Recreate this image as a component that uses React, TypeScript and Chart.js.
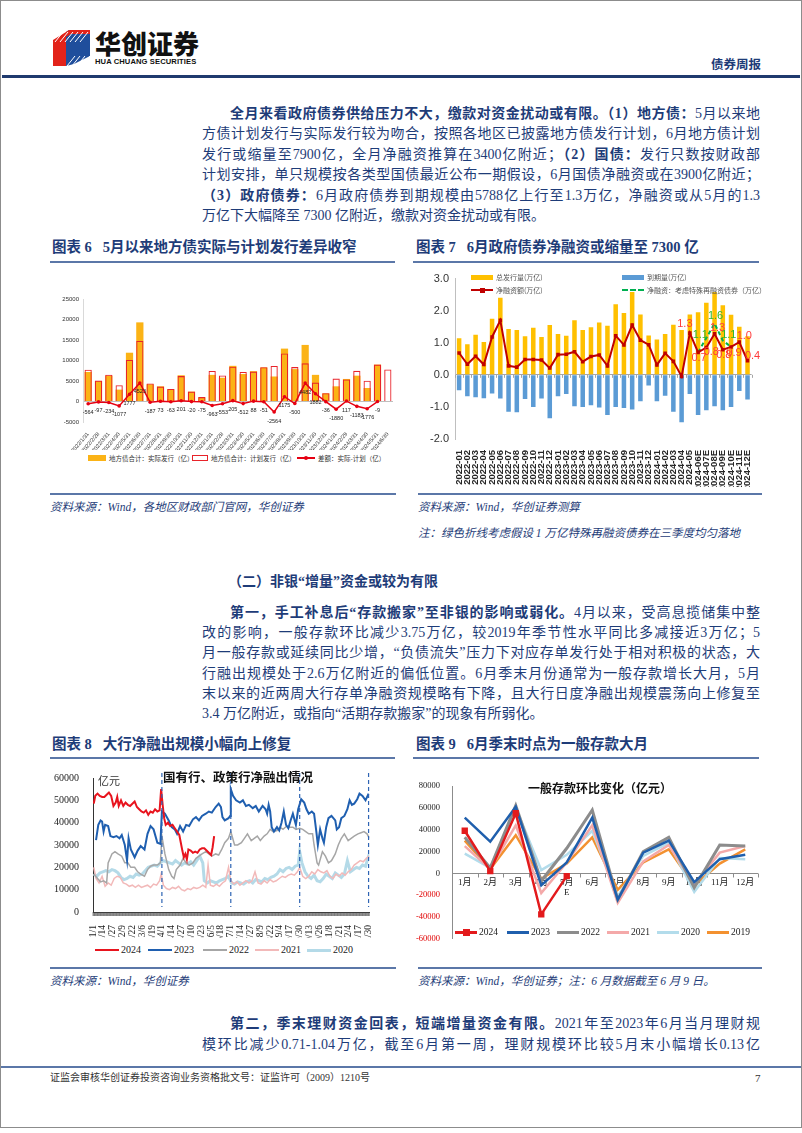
import React, { useEffect, useRef } from "react";
import { Chart, registerables } from "chart.js";
Chart.register(...registerables);

// ---------------- Chart 6 data ----------------
const c6Labels = ["2022/1/31","2022/2/28","2022/3/31","2022/4/30","2022/5/31","2022/6/30","2022/7/31","2022/8/31","2022/9/30","2022/10/31","2022/11/30","2022/12/31","2023/1/31","2023/2/28","2023/3/31","2023/4/30","2023/5/31","2023/6/30","2023/7/31","2023/8/31","2023/9/30","2023/10/31","2023/11/30","2023/12/31","2024/1/31","2024/2/29","2024/3/31","2024/4/30","2024/5/31","2024/6/30"];
const c6Actual = [7200,5000,6300,2900,11900,19300,4200,3700,3000,6400,2400,1000,6500,5800,8700,6700,7400,8300,6100,12900,7900,13800,6500,2000,3700,5500,6300,3300,9000,null];
const c6Plan = [7760,5100,6530,3980,10120,14780,4390,3630,3060,6200,2420,1080,7460,6350,8500,7210,7310,8350,8660,11730,8400,9320,4620,2040,5580,5380,7480,5080,9010,7800];
const c6Diff = [-564,-97,-234,-1077,1777,4523,-187,73,-63,201,-20,-75,-963,-553,205,-512,88,-51,-2564,1175,-500,4482,1882,-36,-1880,117,-1183,-1776,-9,null];

// ---------------- Chart 7 data ----------------
const c7Labels = ["2022-01","2022-02","2022-03","2022-04","2022-05","2022-06","2022-07","2022-08","2022-09","2022-10","2022-11","2022-12","2023-01","2023-02","2023-03","2023-04","2023-05","2023-06","2023-07","2023-08","2023-09","2023-10","2023-11","2023-12","2024-01","2024-02","2024-03","2024-04","2024-05","2024-06E","2024-07E","2024-08E","2024-09E","2024-10E","2024-11E","2024-12E"];
const c7Issue = [1.14,0.95,1.25,1.02,1.75,2.40,1.43,1.40,1.20,1.47,1.18,1.55,1.27,1.22,1.70,1.40,1.48,1.63,1.53,2.20,1.93,2.58,1.88,1.23,1.10,1.27,1.56,1.40,1.88,1.95,2.25,2.58,2.17,1.87,1.50,1.20];
const c7Mature = [-0.48,-0.67,-0.70,-0.73,-0.58,-0.74,-1.15,-1.17,-0.75,-1.00,-0.74,-1.35,-0.67,-0.60,-0.98,-1.00,-0.95,-1.02,-1.25,-1.00,-1.03,-1.08,-0.82,-0.33,-0.82,-0.65,-1.15,-1.48,-0.60,-1.25,-1.10,-0.98,-1.10,-1.00,-0.50,-0.77];
const c7Net = [0.68,0.33,0.58,0.32,1.18,1.70,0.28,0.24,0.48,0.48,0.46,0.21,0.63,0.64,0.72,0.41,0.57,0.62,0.28,1.22,0.93,1.55,1.08,0.94,0.31,0.67,0.42,-0.05,1.30,0.70,0.85,1.28,0.78,0.87,1.02,0.44];
const c7NetSpecial = [null,null,null,null,null,null,null,null,null,null,null,null,null,null,null,null,null,null,null,null,null,null,null,null,null,null,null,null,null,0.70,1.15,1.60,1.07,0.87,null,null];
const c7NetLabelIdx = [28,29,30,31,32,33,34,35];
const c7SpecialLabelIdx = [30,31,32];

// ---------------- Chart 8 data (day of year, 亿元) ----------------
const s2024 = [[1,48500],[3,52000],[6,53000],[9,52000],[12,51500],[15,51500],[18,52500],[21,53500],[24,52000],[27,47500],[30,49000],[32,51500],[34,47500],[37,50000],[40,47500],[43,49000],[46,48000],[49,47500],[52,48500],[55,49500],[58,47000],[61,46000],[64,45000],[67,44500],[70,45500],[73,43500],[76,45000],[79,44500],[82,46000],[85,45000],[88,45500],[90,55000],[92,48000],[94,42000],[96,39000],[99,40000],[102,38500],[105,39000],[108,37500],[111,36000],[114,34500],[116,31000],[118,27500],[120,24500],[122,26000],[124,23500],[126,28000],[129,27500],[132,26500],[135,27000],[138,26500],[141,28000],[144,28500],[147,28500],[150,27500],[153,26500],[156,25500],[158,29000],[160,34000]];
const s2023 = [[4,32200],[7,39000],[10,41000],[12,40500],[14,36000],[16,39000],[20,38500],[23,34000],[27,33500],[31,34000],[35,33000],[38,34500],[42,30000],[45,23000],[47,33000],[50,28000],[55,24500],[59,27500],[63,29500],[68,28000],[72,35000],[76,38500],[80,37000],[85,31000],[89,30500],[91,45000],[95,44000],[100,41000],[104,38000],[108,37000],[111,35000],[115,38500],[119,36000],[123,39000],[127,38500],[132,41500],[136,42500],[140,41000],[144,43000],[149,44000],[153,45000],[157,44500],[162,47000],[166,48500],[169,47000],[171,42500],[174,41000],[179,42000],[181,43000],[182,55000],[185,52000],[189,50000],[194,49000],[198,50000],[202,47500],[206,48000],[211,46500],[215,47500],[219,45000],[224,47500],[228,46000],[230,44000],[232,48000],[234,45000],[236,38000],[239,36000],[243,38000],[246,36500],[249,40000],[252,45000],[255,39000],[258,37500],[261,41000],[264,44000],[268,39000],[271,46000],[275,50500],[279,49000],[282,46000],[285,44000],[289,45000],[292,44000],[295,36000],[297,30000],[300,37000],[303,33000],[305,31000],[308,38000],[311,42000],[315,43000],[320,41000],[322,37000],[325,38000],[328,42000],[332,43000],[336,46000],[339,50000],[342,48000],[345,48500],[349,50500],[352,53000],[356,52000],[360,50000],[364,53000]];
const s2022 = [[1,17000],[6,15000],[10,13500],[14,14000],[18,13000],[20,22000],[25,26000],[29,27000],[33,26000],[38,25000],[42,22000],[46,22000],[50,20000],[55,20000],[59,18000],[63,17000],[68,16000],[72,19000],[76,20500],[80,21000],[85,21000],[89,22000],[91,34000],[95,26000],[100,19000],[104,16000],[107,15000],[110,19000],[115,21000],[119,24000],[123,22000],[127,21000],[132,22000],[136,24000],[140,25000],[144,26000],[149,27000],[153,26000],[157,25000],[162,26000],[166,25500],[170,28000],[174,31000],[179,33000],[182,36000],[187,30000],[191,30000],[196,31000],[200,33000],[204,35000],[209,32000],[213,33000],[217,34000],[221,32000],[226,34000],[230,35000],[234,37000],[238,36000],[243,36500],[247,38000],[251,37000],[256,38500],[260,38000],[264,38000],[268,37000],[273,37500],[277,37000],[281,36000],[285,35000],[290,35000],[292,30000],[296,22000],[298,21000],[303,27000],[307,25000],[311,22000],[315,23000],[320,26000],[324,30000],[328,33000],[332,35000],[337,32000],[341,33000],[345,34000],[350,35000],[354,35500],[358,36000],[362,35000],[365,33000]];
const s2021 = [[1,20000],[4,15000],[8,13000],[12,16000],[16,11500],[20,13000],[24,12000],[28,15000],[32,16000],[36,15500],[40,13000],[44,12500],[48,11500],[52,12000],[56,11000],[60,12000],[64,11000],[68,11500],[72,12000],[76,11000],[80,12500],[84,12000],[88,14000],[90,17000],[93,12000],[97,10500],[101,10000],[105,11000],[109,10500],[113,11500],[117,10000],[121,9500],[125,10500],[129,10000],[133,11000],[137,10500],[141,11000],[145,12000],[149,11000],[152,21000],[155,12000],[159,11500],[163,12500],[167,11500],[171,13000],[175,14000],[179,20000],[182,14000],[186,12500],[190,13500],[194,12000],[198,13000],[202,14000],[206,13000],[210,14000],[214,18000],[218,13000],[222,12500],[226,14000],[230,13000],[234,14500],[238,13500],[242,14000],[246,15000],[250,16000],[254,15500],[258,16500],[262,17000],[266,16500],[270,18000],[273,20000],[277,16000],[281,15000],[285,16000],[289,18000],[293,17000],[297,19000],[301,18000],[305,17500],[309,18500],[313,16000],[317,15000],[321,17000],[325,16000],[329,17500],[333,16500],[337,18000],[341,19000],[345,21000],[349,22000],[353,23000],[357,22500],[361,24000],[365,25000]];
const s2020 = [[1,17000],[5,16000],[9,17500],[13,18000],[17,18500],[21,18000],[25,19000],[29,18500],[33,17500],[37,15500],[41,14500],[45,15000],[49,16000],[53,15500],[57,17000],[61,16500],[65,17000],[69,18500],[73,20000],[77,20500],[81,21000],[85,20500],[89,22000],[93,23000],[97,22500],[101,22000],[105,21500],[109,23000],[113,22000],[117,21000],[121,22000],[125,21500],[129,22500],[133,21000],[137,23000],[141,25000],[145,22000],[147,14000],[151,13000],[155,14000],[159,13500],[163,13000],[167,14000],[171,14500],[175,15000],[179,16000],[183,13000],[187,12500],[191,13500],[195,13000],[199,12500],[203,13500],[207,14000],[211,13000],[215,14500],[219,14000],[223,13500],[227,15000],[231,14500],[235,15500],[239,16000],[243,17000],[247,19000],[251,18000],[255,19500],[259,20000],[263,19000],[267,20500],[271,21000],[273,27000],[276,22000],[280,18000],[284,16000],[288,15000],[292,16500],[296,14000],[300,13500],[304,15000],[308,17000],[312,16000],[316,15000],[320,17500],[324,16500],[328,15500],[332,17000],[336,23000],[340,18000],[344,19000],[348,20000],[352,19500],[356,21000],[360,20500],[363,24000],[365,26000]];
const c8QuarterDays = [91, 182, 273, 364];

// ---------------- Chart 9 data ----------------
const c9Labels = ["1月","2月","3月","4月","5月","6月","7月","8月","9月","10月","11月","12月"];
const d2024 = [39000, 2000, 55000, -37500, -2500, null, null, null, null, null, null, null];
const d2023 = [51000, 29000, 61000, -11000, 10000, 51000, -24000, 19000, 30000, -8000, 13000, 17000];
const d2022 = [33000, 5000, 62000, -7000, 23000, 58000, -24000, 20000, 33000, -13000, 26000, 25000];
const d2021 = [25000, 4000, 44000, -18000, 10000, 44000, -27000, 11000, 26000, -10000, 19000, 25000];
const d2020 = [18000, 5000, 60000, 3000, 17000, 39000, -21000, 16000, 28000, -17000, 14000, 13000];
const d2019 = [30000, 4000, 35000, -5000, 9000, 33000, -15000, 10000, 22000, -11000, 9000, 22000];

const NAVY = "#1E3C78";
const BODY_FONT = '"Liberation Serif", "Noto Sans CJK SC", serif';
const CJK = '"Noto Sans CJK SC", sans-serif';
const plain = (v: any) => String(v);

function ChartCanvas({ left, top, width, height, make }: any) {
  const ref = useRef<HTMLCanvasElement>(null);
  useEffect(() => {
    const ch = new Chart(ref.current as HTMLCanvasElement, make());
    return () => ch.destroy();
  }, []);
  return (
    <div style={{ position: "absolute", left, top, width, height }}>
      <canvas ref={ref} width={width} height={height} style={{ width, height, display: "block" }} />
    </div>
  );
}

function makeChart6() {
  return {
    type: "bar",
    data: {
      labels: c6Labels,
      datasets: [
        { type: "line", label: "差额", data: c6Diff, borderColor: "#E60012", borderWidth: 1.5, pointRadius: 1.8, pointBackgroundColor: "#E60012", pointBorderWidth: 0, order: 0, tension: 0 },
        { type: "bar", label: "计划", data: c6Plan, backgroundColor: "rgba(0,0,0,0)", borderColor: "#E8232A", borderWidth: 1.1, grouped: false, barPercentage: 0.7, categoryPercentage: 1, order: 1 },
        { type: "bar", label: "实际", data: c6Actual, backgroundColor: "#FBB316", borderWidth: 0, grouped: false, barPercentage: 0.7, categoryPercentage: 1, order: 2 },
      ],
    },
    options: {
      responsive: false, animation: false,
      plugins: { legend: { display: false }, tooltip: { enabled: false } },
      layout: { padding: { top: 14, right: 7, left: 0, bottom: 0 } },
      scales: {
        x: { grid: { display: false }, border: { display: false }, ticks: { autoSkip: false, maxRotation: 50, minRotation: 50, font: { size: 5.5 }, color: "#333", padding: 1 }, afterFit: (s: any) => { s.height = 28; } },
        y: { min: -5000, max: 25000, ticks: { stepSize: 5000, font: { size: 6 }, color: "#333", padding: 4, callback: plain }, grid: { drawTicks: false, color: (c: any) => (c.tick && c.tick.value === 0 ? "#BFBFBF" : "transparent") }, border: { display: true, color: "#D9D9D9" }, afterFit: (s: any) => { s.width = 38; } },
      },
    },
    plugins: [{
      id: "diffLabels",
      afterDatasetsDraw(chart: any) {
        const meta = chart.getDatasetMeta(0);
        const ctx = chart.ctx;
        ctx.save();
        ctx.font = "5.5px sans-serif";
        ctx.fillStyle = "#222";
        ctx.textAlign = "center";
        ctx.textBaseline = "middle";
        meta.data.forEach((pt: any, i: number) => {
          const v = c6Diff[i];
          if (v === null || v === undefined) return;
          ctx.fillText(String(v), pt.x, pt.y + 9);
        });
        ctx.restore();
      },
    }],
  };
}

function makeChart7() {
  const netOffsets: any = { 28: [-5, -9], 29: [1, 6], 30: [5, 4], 31: [3, -6], 32: [1, 5], 33: [3, 6], 34: [5, -6], 35: [5, -5] };
  const spOffsets: any = { 30: [-6, -3], 31: [1, -8], 32: [6, -6] };
  return {
    type: "bar",
    data: {
      labels: c7Labels,
      datasets: [
        { type: "line", label: "净融资额(万亿)", data: c7Net, borderColor: "#C00000", borderWidth: 2, pointStyle: "rect", pointRadius: 2.5, pointBackgroundColor: "#C00000", pointBorderWidth: 0, order: 0, tension: 0 },
        { type: "line", label: "净融资：考虑特殊再融资债券（万亿）", data: c7NetSpecial, borderColor: "#00B050", borderWidth: 2, borderDash: [4, 3], pointRadius: 0, order: 1, tension: 0 },
        { type: "bar", label: "总发行量(万亿)", data: c7Issue, backgroundColor: "#FFC000", grouped: false, barPercentage: 0.55, categoryPercentage: 1, order: 2 },
        { type: "bar", label: "到期量(万亿)", data: c7Mature, backgroundColor: "#5B9BD5", grouped: false, barPercentage: 0.55, categoryPercentage: 1, order: 3 },
      ],
    },
    options: {
      responsive: false, animation: false,
      plugins: { legend: { display: false }, tooltip: { enabled: false } },
      layout: { padding: { top: 10, right: 5, left: 0, bottom: 0 } },
      scales: {
        x: { grid: { display: false }, border: { display: false }, ticks: { autoSkip: false, maxRotation: 90, minRotation: 90, font: { size: 9.5, weight: "bold", family: "Liberation Sans" }, color: "#262626", padding: 3 }, afterFit: (s: any) => { s.height = 48; } },
        y: { min: -2, max: 3, ticks: { stepSize: 0.5, font: { size: 11, family: "Liberation Sans" }, color: "#333", padding: 6, callback: (v: any) => Number(v).toFixed(1) }, grid: { drawTicks: false, color: (c: any) => (c.tick && c.tick.value === 0 ? "#A6A6A6" : "transparent") }, border: { display: true, color: "#BFBFBF" }, afterFit: (s: any) => { s.width = 43; } },
      },
    },
    plugins: [{
      id: "c7extras",
      beforeDatasetsDraw(chart: any) {
        const ctx = chart.ctx;
        const xs = chart.scales.x, ys = chart.scales.y;
        const y0 = ys.getPixelForValue(0);
        ctx.save();
        ctx.strokeStyle = "#A6A6A6";
        ctx.lineWidth = 1;
        for (let i = 0; i <= c7Labels.length; i++) {
          const x = xs.left + (xs.width * i) / c7Labels.length;
          ctx.beginPath();
          ctx.moveTo(Math.round(x) + 0.5, y0);
          ctx.lineTo(Math.round(x) + 0.5, y0 + 3);
          ctx.stroke();
        }
        ctx.restore();
      },
      afterDatasetsDraw(chart: any) {
        const ctx = chart.ctx;
        ctx.save();
        ctx.font = "11px 'Liberation Sans'";
        ctx.textAlign = "center";
        ctx.textBaseline = "middle";
        const m0 = chart.getDatasetMeta(0);
        ctx.fillStyle = "#FF3B3B";
        c7NetLabelIdx.forEach((i) => {
          const p = m0.data[i];
          const o = netOffsets[i];
          ctx.fillText(c7Net[i].toFixed(1), p.x + o[0], p.y + o[1]);
        });
        const m1 = chart.getDatasetMeta(1);
        ctx.fillStyle = "#2EB82E";
        c7SpecialLabelIdx.forEach((i) => {
          const p = m1.data[i];
          const o = spOffsets[i];
          ctx.fillText((c7NetSpecial[i] as number).toFixed(1), p.x + o[0], p.y + o[1]);
        });
        ctx.restore();
      },
    }],
  };
}

function dayLabel(v: number) {
  const d = new Date(2024, 0, 1 + v);
  return `${d.getMonth() + 1}/${d.getDate()}`;
}

function makeChart8() {
  const pts = (s: number[][]) => s.map((p) => ({ x: p[0], y: p[1] }));
  return {
    type: "line",
    data: {
      datasets: [
        { label: "2024", data: pts(s2024), borderColor: "#E8141E", borderWidth: 2, pointRadius: 0, tension: 0 },
        { label: "2023", data: pts(s2023), borderColor: "#1F5FB0", borderWidth: 2, pointRadius: 0, tension: 0 },
        { label: "2022", data: pts(s2022), borderColor: "#A6A6A6", borderWidth: 1.5, pointRadius: 0, tension: 0 },
        { label: "2021", data: pts(s2021), borderColor: "#F2B9B9", borderWidth: 1.5, pointRadius: 0, tension: 0 },
        { label: "2020", data: pts(s2020), borderColor: "#B4DAE8", borderWidth: 3, pointRadius: 0, tension: 0 },
      ],
    },
    options: {
      responsive: false, animation: false,
      plugins: { legend: { display: false }, tooltip: { enabled: false } },
      layout: { padding: { top: 12, right: 8, left: 0, bottom: 0 } },
      scales: {
        x: { type: "linear", min: 0, max: 365, grid: { display: false }, border: { display: true, color: "#333" }, ticks: { stepSize: 13, includeBounds: false, autoSkip: false, maxRotation: 90, minRotation: 90, font: { size: 9.5, family: "Liberation Serif" }, color: "#222", padding: 5, callback: (v: any) => dayLabel(Number(v)) }, afterFit: (s: any) => { s.height = 26; } },
        y: { min: 0, max: 60000, ticks: { stepSize: 10000, font: { size: 10, family: "Liberation Serif" }, color: "#222", padding: 6, callback: plain }, grid: { display: false }, border: { display: true, color: "#333" }, afterFit: (s: any) => { s.width = 48; } },
      },
    },
    plugins: [{
      id: "c8extras",
      beforeDatasetsDraw(chart: any) {
        const ctx = chart.ctx;
        const xs = chart.scales.x, ys = chart.scales.y;
        ctx.save();
        ctx.strokeStyle = "#444";
        ctx.lineWidth = 0.6;
        for (let d = 0; d <= 365; d++) {
          const x = xs.getPixelForValue(d);
          ctx.beginPath();
          ctx.moveTo(x, ys.bottom);
          ctx.lineTo(x, ys.bottom + 4);
          ctx.stroke();
        }
        ctx.restore();
      },
      afterDatasetsDraw(chart: any) {
        const ctx = chart.ctx;
        const xs = chart.scales.x, ys = chart.scales.y;
        ctx.save();
        ctx.strokeStyle = "#2E64B4";
        ctx.lineWidth = 1.2;
        ctx.setLineDash([4, 3]);
        c8QuarterDays.forEach((d) => {
          const x = xs.getPixelForValue(d);
          ctx.beginPath();
          ctx.moveTo(x, ys.top - 5);
          ctx.lineTo(x, ys.bottom - 5);
          ctx.stroke();
        });
        ctx.restore();
      },
    }],
  };
}

function makeChart9() {
  return {
    type: "line",
    data: {
      labels: c9Labels,
      datasets: [
        { label: "2024", data: d2024, borderColor: "#E31A1C", borderWidth: 2.5, pointStyle: "rect", pointRadius: 4.5, pointBackgroundColor: "#E31A1C", pointBorderWidth: 0, tension: 0 },
        { label: "2023", data: d2023, borderColor: "#1F5FAD", borderWidth: 2.5, pointRadius: 0, tension: 0 },
        { label: "2022", data: d2022, borderColor: "#8C8C8C", borderWidth: 3, pointRadius: 0, tension: 0 },
        { label: "2021", data: d2021, borderColor: "#F4A9A9", borderWidth: 2.5, pointRadius: 0, tension: 0 },
        { label: "2020", data: d2020, borderColor: "#B3DCEB", borderWidth: 2.5, pointRadius: 0, tension: 0 },
        { label: "2019", data: d2019, borderColor: "#F39130", borderWidth: 2.5, pointRadius: 0, tension: 0 },
      ],
    },
    options: {
      responsive: false, animation: false,
      plugins: { legend: { display: false }, tooltip: { enabled: false } },
      layout: { padding: { top: 10, right: 11, left: 0, bottom: 6 } },
      scales: {
        x: { display: false, offset: true },
        y: { min: -60000, max: 80000, ticks: { stepSize: 20000, font: { size: 8.5, family: "Liberation Serif" }, color: (c: any) => (c.tick && c.tick.value < 0 ? "#E00000" : "#222"), padding: 4, callback: plain }, grid: { display: false }, border: { display: true, color: "#8C8C8C" }, afterFit: (s: any) => { s.width = 40; } },
      },
    },
    plugins: [{
      id: "c9axis",
      beforeDatasetsDraw(chart: any) {
        const ctx = chart.ctx;
        const xs = chart.scales.x, ys = chart.scales.y;
        const y0 = Math.round(ys.getPixelForValue(0)) + 0.5;
        ctx.save();
        ctx.strokeStyle = "#8C8C8C";
        ctx.lineWidth = 1;
        ctx.beginPath();
        ctx.moveTo(xs.left, y0);
        ctx.lineTo(xs.right, y0);
        ctx.stroke();
        for (let i = 0; i <= c9Labels.length; i++) {
          const x = Math.round(xs.left + (xs.width * i) / c9Labels.length) + 0.5;
          ctx.beginPath();
          ctx.moveTo(x, y0);
          ctx.lineTo(x, y0 + 4);
          ctx.stroke();
        }
        ctx.font = "9px 'Liberation Serif', 'Noto Sans CJK SC'";
        ctx.fillStyle = "#222";
        ctx.textAlign = "center";
        ctx.textBaseline = "top";
        c9Labels.forEach((l, i) => {
          const x = xs.getPixelForValue(i);
          ctx.fillText(l, x, y0 + 5);
          if (i === 4) ctx.fillText("E", x, y0 + 15);
        });
        ctx.restore();
      },
    }],
  };
}

function TextLine({ y, x = 202, w = 558, last = false, children }: any) {
  return (
    <div style={{ position: "absolute", left: x, top: y - 10, width: w, height: 20, lineHeight: "20px", fontSize: 14, fontFamily: BODY_FONT, color: NAVY, textAlign: last ? "left" : "justify", textAlignLast: last ? "left" : "justify" } as any}>
      {children}
    </div>
  );
}

function Abs({ x, y, children, style }: any) {
  return <div style={{ position: "absolute", left: x, top: y, whiteSpace: "nowrap", ...style }}>{children}</div>;
}

const captionStyle = { fontFamily: BODY_FONT, fontStyle: "italic", fontSize: 11.5, color: NAVY, lineHeight: "14px" };
const titleStyle = { fontFamily: BODY_FONT, fontWeight: 700, fontSize: 14.5, color: NAVY, lineHeight: "18px" };
const legTxt = { fontFamily: CJK, fontSize: 6.5, color: "#333", lineHeight: "8px" };

function Logo() {
  return (
    <svg style={{ position: "absolute", left: 53, top: 30 }} width="38" height="36" viewBox="0 0 38 36">
      <polygon points="0,10 13,2 13,36 0,36" fill="#E2231A" />
      <polygon points="13,2 16,0 37,0 37,26 21,34 13,36" fill="#1F4E9C" />
      <polygon points="13,2 16,0 37,0 37,4 18,4 13,7" fill="#E2231A" />
      {[0, 1, 2, 3, 4, 5].map((i) => (
        <line key={"a" + i} x1={2 + i * 5} y1={12} x2={10 + i * 5} y2={2} stroke="#fff" strokeWidth="1" />
      ))}
      {[0, 1, 2, 3, 4].map((i) => (
        <line key={"b" + i} x1={14 + i * 5} y1={36} x2={22 + i * 5} y2={26} stroke="#fff" strokeWidth="1" />
      ))}
    </svg>
  );
}

export default function App() {
  return (
    <div style={{ position: "absolute", left: 0, top: 0, width: 802, height: 1133, background: "#fff", overflow: "hidden" }}>
      <div style={{ position: "absolute", left: 0, top: 0, width: 800, height: 1126, border: "1px solid #8C8C8C" }} />
      {/* Header */}
      <Logo />
      <Abs x={95} y={28} style={{ fontFamily: CJK, fontWeight: 900, fontSize: 26, color: "#111", lineHeight: "30px", letterSpacing: 0 }}>华创证券</Abs>
      <Abs x={95} y={57} style={{ fontFamily: '"Liberation Sans", sans-serif', fontWeight: 700, fontSize: 7.6, color: "#111", lineHeight: "9px", letterSpacing: 0.1 }}>HUA CHUANG SECURITIES</Abs>
      <Abs x={711} y={56} style={{ fontFamily: CJK, fontWeight: 700, fontSize: 12.5, color: NAVY, lineHeight: "15px" }}>债券周报</Abs>
      <div style={{ position: "absolute", left: 2, top: 75, width: 798, height: 3, background: "#1F3A6E" }} />

      {/* Paragraph 1 */}
      <TextLine y={114} x={230} w={530}><b>全月来看政府债券供给压力不大，缴款对资金扰动或有限。（1）地方债：</b>5月以来地</TextLine>
      <TextLine y={134.4}>方债计划发行与实际发行较为吻合，按照各地区已披露地方债发行计划，6月地方债计划</TextLine>
      <TextLine y={154.8}>发行或缩量至7900亿，全月净融资推算在3400亿附近；<b>（2）国债：</b>发行只数按财政部</TextLine>
      <TextLine y={175.2}>计划安排，单只规模按各类型国债最近公布一期假设，6月国债净融资或在3900亿附近；</TextLine>
      <TextLine y={195.6}><b>（3）政府债券：</b>6月政府债券到期规模由5788亿上行至1.3万亿，净融资或从5月的1.3</TextLine>
      <TextLine y={216} last>万亿下大幅降至 7300 亿附近，缴款对资金扰动或有限。</TextLine>

      {/* Chart 6 & 7 titles */}
      <Abs x={52} y={238} style={titleStyle}>图表 6&nbsp;&nbsp;&nbsp;5月以来地方债实际与计划发行差异收窄</Abs>
      <div style={{ position: "absolute", left: 50, top: 261, width: 345, height: 2, background: "#5B77A8" }} />
      <Abs x={416} y={238} style={titleStyle}>图表 7&nbsp;&nbsp;&nbsp;6月政府债券净融资或缩量至 7300 亿</Abs>
      <div style={{ position: "absolute", left: 413, top: 261, width: 346, height: 2, background: "#5B77A8" }} />

      <ChartCanvas left={45} top={285} width={355} height={165} make={makeChart6} />
      {/* Chart 6 legend */}
      <div style={{ position: "absolute", left: 88, top: 455, width: 18, height: 6, background: "#FBB316" }} />
      <Abs x={109} y={454} style={legTxt}>地方债合计：实际发行（亿）</Abs>
      <div style={{ position: "absolute", left: 192, top: 455, width: 14, height: 4, border: "1px solid #E8232A" }} />
      <Abs x={211} y={454} style={legTxt}>地方债合计：计划发行（亿）</Abs>
      <div style={{ position: "absolute", left: 297, top: 457, width: 18, height: 1.5, background: "#E60012" }} />
      <div style={{ position: "absolute", left: 304, top: 456, width: 4, height: 4, borderRadius: 2, background: "#E60012" }} />
      <Abs x={318} y={454} style={legTxt}>差额：实际-计划（亿）</Abs>

      <ChartCanvas left={412} top={266} width={350} height={221} make={makeChart7} />
      {/* Chart 7 legend */}
      <div style={{ position: "absolute", left: 471, top: 275, width: 22, height: 5, background: "#FFC000" }} />
      <Abs x={496} y={273} style={{ ...legTxt, fontSize: 7, color: "#555" }}>总发行量(万亿)</Abs>
      <div style={{ position: "absolute", left: 622, top: 275, width: 22, height: 5, background: "#5B9BD5" }} />
      <Abs x={647} y={273} style={{ ...legTxt, fontSize: 7, color: "#555" }}>到期量(万亿)</Abs>
      <div style={{ position: "absolute", left: 471, top: 289, width: 22, height: 2, background: "#C00000" }} />
      <div style={{ position: "absolute", left: 479.5, top: 287.5, width: 5, height: 5, background: "#C00000" }} />
      <Abs x={496} y={286} style={{ ...legTxt, fontSize: 7, color: "#555" }}>净融资额(万亿)</Abs>
      <div style={{ position: "absolute", left: 622, top: 289, width: 22, height: 0, borderTop: "2px dashed #00B050" }} />
      <Abs x={647} y={286} style={{ ...legTxt, fontSize: 7, color: "#555" }}>净融资：考虑特殊再融资债券（万亿）</Abs>

      {/* Sources 1 */}
      <div style={{ position: "absolute", left: 50, top: 493, width: 346, height: 2, background: "#5B77A8" }} />
      <div style={{ position: "absolute", left: 418, top: 493, width: 344, height: 2, background: "#5B77A8" }} />
      <Abs x={50} y={500} style={captionStyle}>资料来源：Wind，各地区财政部门官网，华创证券</Abs>
      <Abs x={418} y={500} style={captionStyle}>资料来源：Wind，华创证券测算</Abs>
      <Abs x={418} y={526} style={captionStyle}>注：绿色折线考虑假设 1 万亿特殊再融资债券在三季度均匀落地</Abs>

      {/* Section heading */}
      <Abs x={228} y={572} style={{ fontFamily: BODY_FONT, fontWeight: 700, fontSize: 14, color: NAVY, lineHeight: "20px" }}>（二）非银“增量”资金或较为有限</Abs>

      {/* Paragraph 2 */}
      <TextLine y={613} x={230} w={530}><b>第一，手工补息后“存款搬家”至非银的影响或弱化。</b>4月以来，受高息揽储集中整</TextLine>
      <TextLine y={633.2}>改的影响，一般存款环比减少3.75万亿，较2019年季节性水平同比多减接近3万亿；5</TextLine>
      <TextLine y={653.4}>月一般存款或延续同比少增，“负债流失”压力下对应存单发行处于相对积极的状态，大</TextLine>
      <TextLine y={673.6}>行融出规模处于2.6万亿附近的偏低位置。6月季末月份通常为一般存款增长大月，5月</TextLine>
      <TextLine y={693.8}>末以来的近两周大行存单净融资规模略有下降，且大行日度净融出规模震荡向上修复至</TextLine>
      <TextLine y={714} last>3.4 万亿附近，或指向“活期存款搬家”的现象有所弱化。</TextLine>

      {/* Chart 8 & 9 titles */}
      <Abs x={52} y={735} style={titleStyle}>图表 8&nbsp;&nbsp;&nbsp;大行净融出规模小幅向上修复</Abs>
      <div style={{ position: "absolute", left: 50, top: 757, width: 345, height: 2, background: "#5B77A8" }} />
      <Abs x={416} y={735} style={titleStyle}>图表 9&nbsp;&nbsp;&nbsp;6月季末时点为一般存款大月</Abs>
      <div style={{ position: "absolute", left: 413, top: 757, width: 346, height: 2, background: "#5B77A8" }} />

      <ChartCanvas left={45} top={766} width={340} height={172} make={makeChart8} />
      <Abs x={98} y={773} style={{ fontFamily: CJK, fontSize: 11, color: "#333", lineHeight: "14px" }}>亿元</Abs>
      <Abs x={163} y={769} style={{ fontFamily: CJK, fontWeight: 700, fontSize: 12.5, color: "#111", lineHeight: "16px" }}>国有行、政策行净融出情况</Abs>
      {/* Chart 8 legend */}
      {[
        { x: 95, c: "#E8141E", t: "2024", h: 2 },
        { x: 148, c: "#1F5FB0", t: "2023", h: 2 },
        { x: 203, c: "#A6A6A6", t: "2022", h: 2 },
        { x: 255, c: "#F2B9B9", t: "2021", h: 2 },
        { x: 307, c: "#B4DAE8", t: "2020", h: 3 },
      ].map((l) => (
        <React.Fragment key={l.t}>
          <div style={{ position: "absolute", left: l.x, top: 950 - l.h / 2, width: 24, height: l.h, background: l.c }} />
          <Abs x={l.x + 26} y={944} style={{ fontFamily: "Liberation Serif", fontSize: 10, color: "#222", lineHeight: "12px" }}>{l.t}</Abs>
        </React.Fragment>
      ))}

      <ChartCanvas left={412} top={776} width={357} height={172} make={makeChart9} />
      <Abs x={528} y={780} style={{ fontFamily: CJK, fontWeight: 700, fontSize: 12, color: "#111", lineHeight: "16px" }}>一般存款环比变化（亿元）</Abs>
      {/* Chart 9 legend */}
      {[
        { x: 455, c: "#E31A1C", t: "2024", m: true },
        { x: 507, c: "#1F5FAD", t: "2023" },
        { x: 557, c: "#8C8C8C", t: "2022" },
        { x: 607, c: "#F4A9A9", t: "2021" },
        { x: 657, c: "#B3DCEB", t: "2020" },
        { x: 707, c: "#F39130", t: "2019" },
      ].map((l) => (
        <React.Fragment key={l.t}>
          <div style={{ position: "absolute", left: l.x, top: 931, width: 22, height: 2.5, background: l.c }} />
          {l.m ? <div style={{ position: "absolute", left: l.x + 7.5, top: 928.5, width: 7, height: 7, background: l.c }} /> : null}
          <Abs x={l.x + 24} y={926} style={{ fontFamily: "Liberation Serif", fontSize: 9.5, color: "#222", lineHeight: "12px" }}>{l.t}</Abs>
        </React.Fragment>
      ))}

      {/* Sources 2 */}
      <div style={{ position: "absolute", left: 50, top: 967, width: 346, height: 2, background: "#5B77A8" }} />
      <div style={{ position: "absolute", left: 418, top: 967, width: 344, height: 2, background: "#5B77A8" }} />
      <Abs x={50} y={974} style={captionStyle}>资料来源：Wind，华创证券</Abs>
      <Abs x={418} y={974} style={captionStyle}>资料来源：Wind，华创证券；注：6 月数据截至 6 月 9 日。</Abs>

      {/* Paragraph 3 */}
      <TextLine y={1024} x={230} w={530}><b>第二，季末理财资金回表，短端增量资金有限。</b>2021年至2023年6月当月理财规</TextLine>
      <TextLine y={1045}>模环比减少0.71-1.04万亿，截至6月第一周，理财规模环比较5月末小幅增长0.13亿</TextLine>

      {/* Footer */}
      <div style={{ position: "absolute", left: 1, top: 1066, width: 800, height: 2, background: "#5B77A8" }} />
      <Abs x={50} y={1071} style={{ fontFamily: BODY_FONT, fontSize: 10, color: "#333", lineHeight: "14px" }}>证监会审核华创证券投资咨询业务资格批文号：证监许可（2009）1210号</Abs>
      <Abs x={755} y={1071} style={{ fontFamily: BODY_FONT, fontSize: 11, color: "#333", lineHeight: "14px" }}>7</Abs>
    </div>
  );
}
